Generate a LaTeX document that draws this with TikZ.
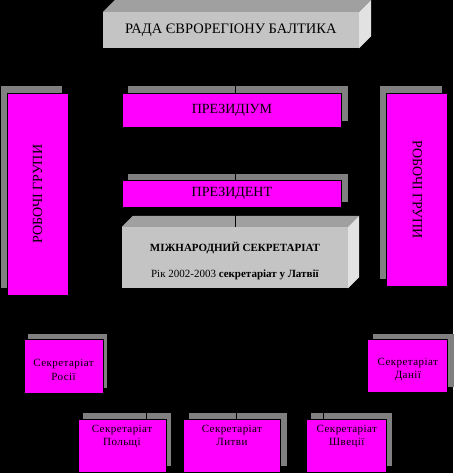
\documentclass[tikz,border=0pt]{standalone}
\usepackage{fontspec}
\setmainfont{Liberation Serif}
\usetikzlibrary{positioning}

\pgfdeclarelayer{bg}
\pgfdeclarelayer{links}
\pgfsetlayers{bg,links,main}

\definecolor{mag}{HTML}{FF00FF}
\definecolor{shd}{HTML}{808080}
\definecolor{frontgray}{HTML}{C4C4C4}
\definecolor{topgray}{HTML}{A0A0A0}
\definecolor{sidegray}{HTML}{E2E2E2}

\begin{document}
\begin{tikzpicture}[
  x=1pt, y=-1pt,
  mbox/.style={draw=black, line width=0.8pt, fill=mag, inner sep=0pt},
  cube/.style={fill=frontgray, inner sep=0pt},
  link/.style={draw=black, line width=1pt},
  bigtxt/.style={font=\fontsize{14}{16}\selectfont},
  smtxt/.style={font=\fontsize{11}{13.5}\selectfont\addfontfeature{LetterSpace=4}, align=center},
]

%% background, also fixes the page size
\begin{pgfonlayer}{bg}
  \fill[black] (0,0) rectangle (453,473);
\end{pgfonlayer}

%% ====================================================
%% Top: council and presidium column
%% ====================================================
\node[cube, minimum width=256pt, minimum height=36pt, font=\fontsize{14.5}{16}\selectfont]
  (rada) at (231,30) {РАДА ЄВРОРЕГІОНУ БАЛТИКА};

\node[mbox, bigtxt, minimum width=220pt, minimum height=34pt] (prm) at (232,110) {ПРЕЗИДІУМ};
\node[mbox, bigtxt, minimum width=220pt, minimum height=27pt] (prs) at (232,193.5) {ПРЕЗИДЕНТ};

\node[cube, minimum width=226pt, minimum height=61pt] (sec) at (235,257.5) {};
\node[font=\fontsize{11}{13}\selectfont\bfseries] (sect1) at (235,248) {МІЖНАРОДНИЙ СЕКРЕТАРІАТ};
\node[font=\fontsize{11}{13}\selectfont] (sect2) at (235,275) {Рік 2002-2003 \textbf{секретаріат у Латвії}};

%% Working groups, both sides
\node[mbox, bigtxt, rotate=90, minimum width=202pt, minimum height=61pt] (wgl) at (37.5,194) {РОБОЧІ ГРУПИ};
\node[mbox, bigtxt, rotate=-90, minimum width=193pt, minimum height=61pt] (wgr) at (417.5,189.5) {РОБОЧІ ГРУПИ};

%% ====================================================
%% National secretariats
%% ====================================================
\node[mbox, minimum width=79pt, minimum height=54pt] (ros) at (63.5,366) {};
\node[mbox, minimum width=80pt, minimum height=53pt] (dan) at (408,365.5) {};
\node[mbox, minimum width=88pt, minimum height=53pt] (pol) at (122,445.5) {};
\node[mbox, minimum width=98pt, minimum height=53pt] (lit) at (232,445.5) {};
\node[mbox, minimum width=80pt, minimum height=53pt] (shv) at (347,445.5) {};

\node[smtxt] (rost) at ([yshift=-4pt]ros.center) {Секретаріат\\Росії};
\node[smtxt] (dant) at ([yshift=-4pt]dan.center) {Секретаріат\\Данії};
\node[smtxt, below=3pt of pol.north] (polt) {Секретаріат\\Польщі};
\node[smtxt, below=3pt of lit.north] (litt) {Секретаріат\\Литви};
\node[smtxt, below=3pt of shv.north] (shvt) {Секретаріат\\Швеції};

%% Shadows and cube faces
\begin{pgfonlayer}{bg}
  \foreach \n/\dx/\dy in {prm/6/-7, prs/6/-6, wgl/-6/-7, wgr/-6/-7,
                          ros/4/-5, dan/6/-5, pol/5/-6, lit/6/-6, shv/5/-6} {
    \fill[shd] ([shift={(\dx,\dy)}]\n.south west) rectangle ([shift={(\dx,\dy)}]\n.north east);
  }
  \foreach \n/\d in {rada/12, sec/11} {
    \fill[topgray] (\n.north west) -- ++(\d,-\d) -- ([shift={(\d,-\d)}]\n.north east)
      -- (\n.north east) -- cycle;
    \fill[sidegray] (\n.north east) -- ++(\d,-\d) -- ([shift={(\d,-\d)}]\n.south east)
      -- (\n.south east) -- cycle;
  }
\end{pgfonlayer}

%% Connectors (black, seen only where they cross grey)
\coordinate (spine) at (236,0);
\coordinate (bus) at (0,400);
\coordinate (dpol) at (147,400);
\coordinate (dlit) at (237,400);
\coordinate (dshv) at (324,400);
\begin{pgfonlayer}{links}
  \draw[link] (rada.south -| spine) -- (sec.north -| spine);
  \draw[link] (sec.south -| spine) -- (bus -| spine);
  \draw[link] (dpol) -- (dshv);
  \foreach \n in {pol,lit,shv} {
    \draw[link] (d\n) -- (d\n |- \n.north);
  }
\end{pgfonlayer}

\end{tikzpicture}
\end{document}
